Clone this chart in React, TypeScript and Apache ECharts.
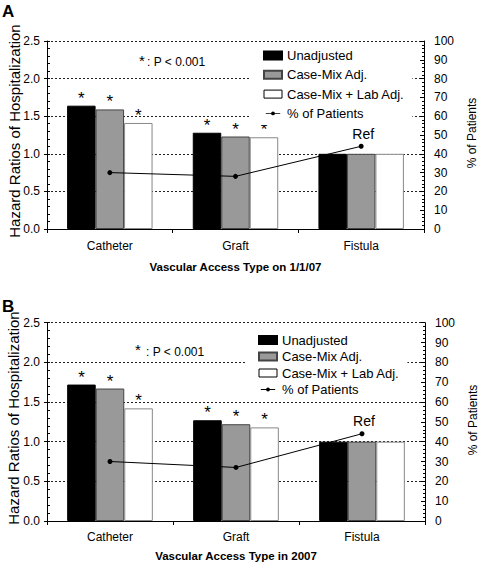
import React, { useEffect, useRef } from "react";
import * as echarts from "echarts";

const categories = ["Catheter", "Graft", "Fistula"];
const seriesNames = ["Unadjusted", "Case-Mix Adj.", "Case-Mix + Lab Adj.", "% of Patients"];
const significant = [true, true, false];
const refCategory = "Fistula";

const unadjA = [1.64, 1.28, 1.0];
const caseMixA = [1.59, 1.23, 1.0];
const labA = [1.41, 1.22, 1.0];
const pctA = [30, 28, 44];

const unadjB = [1.72, 1.27, 1.0];
const caseMixB = [1.67, 1.22, 1.0];
const labB = [1.42, 1.18, 1.0];
const pctB = [30, 27, 44];

const hrTicks = { min: 0, max: 2.5, interval: 0.5 };
const pctTicks = { min: 0, max: 100, interval: 10 };

const FONT = "Arial, 'Liberation Sans', sans-serif";

const lineIcon =
  "path://M0,0h0.01v0.01h-0.01z M17.99,9.99h0.01v0.01h-0.01z M0,4.5h18v1H0z M6.6,5a2.4,2.4 0 1,1 4.8,0a2.4,2.4 0 1,1 -4.8,0z";

function buildPanel(
  gi: number,
  unadj: number[],
  caseMix: number[],
  lab: number[],
  pct: number[],
  labelMargin: number
) {
  const xAxis = {
    type: "category",
    gridIndex: gi,
    data: categories,
    axisLine: { show: true, lineStyle: { color: "#000", width: 1 } },
    axisTick: { show: true, length: 4, lineStyle: { color: "#000" } },
    axisLabel: { color: "#000", fontSize: 12, fontFamily: FONT, margin: labelMargin },
    splitLine: { show: false },
  };
  const yAxes = [
    {
      type: "value",
      gridIndex: gi,
      position: "left",
      ...hrTicks,
      axisLine: { show: true, lineStyle: { color: "#000", width: 1 } },
      axisTick: { show: true, length: 3, lineStyle: { color: "#000" } },
      axisLabel: {
        color: "#000",
        fontSize: 12,
        fontFamily: FONT,
        margin: 7,
        formatter: (v: number) => v.toFixed(1),
      },
      splitLine: { show: true, lineStyle: { color: "#222", type: [2, 2], width: 1 } },
    },
    {
      type: "value",
      gridIndex: gi,
      position: "left",
      ...hrTicks,
      axisLine: { show: false },
      axisTick: { show: true, inside: true, length: 3, lineStyle: { color: "#000" } },
      minorTick: { show: true, splitNumber: 5, length: 3, lineStyle: { color: "#000" } },
      axisLabel: { show: false },
      splitLine: { show: false },
    },
    {
      type: "value",
      gridIndex: gi,
      position: "right",
      ...pctTicks,
      axisLine: { show: true, lineStyle: { color: "#000", width: 1 } },
      axisTick: { show: true, inside: true, length: 4, lineStyle: { color: "#000" } },
      minorTick: { show: true, splitNumber: 5, length: 2, lineStyle: { color: "#000" } },
      axisLabel: { color: "#000", fontSize: 12, fontFamily: FONT, margin: 10 },
      splitLine: { show: false },
    },
  ];
  const starLabel = {
    show: true,
    position: "top",
    distance: -1,
    fontSize: 17,
    fontFamily: FONT,
    color: "#000",
    formatter: (p: any) => (significant[p.dataIndex] ? "*" : ""),
  };
  const barBase = {
    type: "bar",
    xAxisIndex: gi,
    yAxisIndex: gi * 3,
    barGap: "0%",
    barCategoryGap: "32%",
    label: starLabel,
  };
  const series = [
    {
      ...barBase,
      name: seriesNames[0],
      data: unadj,
      itemStyle: { color: "#000", borderColor: "#000", borderWidth: 1 },
    },
    {
      ...barBase,
      name: seriesNames[1],
      data: caseMix,
      itemStyle: { color: "#999", borderColor: "#444", borderWidth: 1 },
    },
    {
      ...barBase,
      name: seriesNames[2],
      data: lab,
      itemStyle: { color: "#fff", borderColor: "#888", borderWidth: 1 },
    },
    {
      type: "line",
      name: seriesNames[3],
      xAxisIndex: gi,
      yAxisIndex: gi * 3 + 2,
      data: pct.map((v, i) =>
        categories[i] === refCategory
          ? {
              value: v,
              label: {
                show: true,
                position: "top",
                distance: 3,
                offset: [2, 0],
                formatter: "Ref",
                fontSize: 14,
                fontFamily: FONT,
                color: "#000",
              },
            }
          : v
      ),
      symbol: "circle",
      symbolSize: 5,
      itemStyle: { color: "#000" },
      lineStyle: { color: "#000", width: 1 },
      z: 5,
    },
  ];
  return { xAxis, yAxes, series };
}

function legendFor(left: number, top: number, itemGap: number, padding: number[]) {
  return {
    orient: "vertical",
    left,
    top,
    itemGap,
    itemWidth: 18,
    itemHeight: 8,
    padding,
    backgroundColor: "#fff",
    selectedMode: false,
    textStyle: { color: "#000", fontSize: 13, fontFamily: FONT, lineHeight: 15 },
    data: [
      { name: seriesNames[0], icon: "rect" },
      { name: seriesNames[1], icon: "rect" },
      { name: seriesNames[2], icon: "rect", itemStyle: { borderColor: "#000", borderWidth: 1 } },
      { name: seriesNames[3], icon: lineIcon },
    ],
  };
}

function txt(text: string, x: number, y: number, opts: any = {}) {
  return {
    type: "text",
    x,
    y,
    rotation: opts.rotation || 0,
    z: 10,
    style: {
      text,
      fill: "#000",
      fontSize: opts.fontSize || 12,
      fontWeight: opts.fontWeight || "normal",
      fontFamily: FONT,
      align: opts.align || "center",
      verticalAlign: opts.verticalAlign || "middle",
    },
  };
}

export default function App() {
  const ref = useRef<HTMLDivElement>(null);
  useEffect(() => {
    if (!ref.current) return;
    const chart = echarts.init(ref.current, null, { renderer: "svg" });
    const a = buildPanel(0, unadjA, caseMixA, labA, pctA, 11);
    const b = buildPanel(1, unadjB, caseMixB, labB, pctB, 10);
    const option: any = {
      animation: false,
      backgroundColor: "#fff",
      grid: [
        { left: 47, right: 56, top: 41, height: 188, containLabel: false },
        { left: 47, right: 55, top: 322.7, height: 198.3, containLabel: false },
      ],
      xAxis: [a.xAxis, b.xAxis],
      yAxis: [...a.yAxes, ...b.yAxes],
      series: [...a.series, ...b.series],
      legend: [
        legendFor(250, 45, 4.3, [3, 8, 4, 13]),
        legendFor(246, 329.5, 1.5, [3, 8, 3, 12]),
      ],
      graphic: [
        txt("A", 2, 3, { fontSize: 17, fontWeight: "bold", align: "left", verticalAlign: "top" }),
        txt("B", 2, 298, { fontSize: 17, fontWeight: "bold", align: "left", verticalAlign: "top" }),
        txt("Hazard Ratios of Hospitalization", 14, 131, { fontSize: 15, rotation: Math.PI / 2 }),
        txt("Hazard Ratios of Hospitalization", 13, 418, { fontSize: 15, rotation: Math.PI / 2 }),
        txt("% of Patients", 472, 133, { fontSize: 12, rotation: Math.PI / 2 }),
        txt("% of Patients", 473, 420, { fontSize: 12, rotation: Math.PI / 2 }),
        txt("Vascular Access Type on 1/1/07", 235.5, 267, { fontSize: 11.5, fontWeight: "bold" }),
        txt("Vascular Access Type in 2007", 236, 556, { fontSize: 11.5, fontWeight: "bold" }),
        txt("*", 139, 60, { fontSize: 15, align: "left" }),
        txt(": P < 0.001", 147, 62, { fontSize: 12, align: "left" }),
        txt("*", 135, 349, { fontSize: 15, align: "left" }),
        txt(": P < 0.001", 146, 351.5, { fontSize: 12, align: "left" }),
      ],
    };
    chart.setOption(option);
    return () => chart.dispose();
  }, []);
  return (
    <div
      ref={ref}
      style={{ position: "absolute", left: 0, top: 0, width: 480, height: 564 }}
    />
  );
}
